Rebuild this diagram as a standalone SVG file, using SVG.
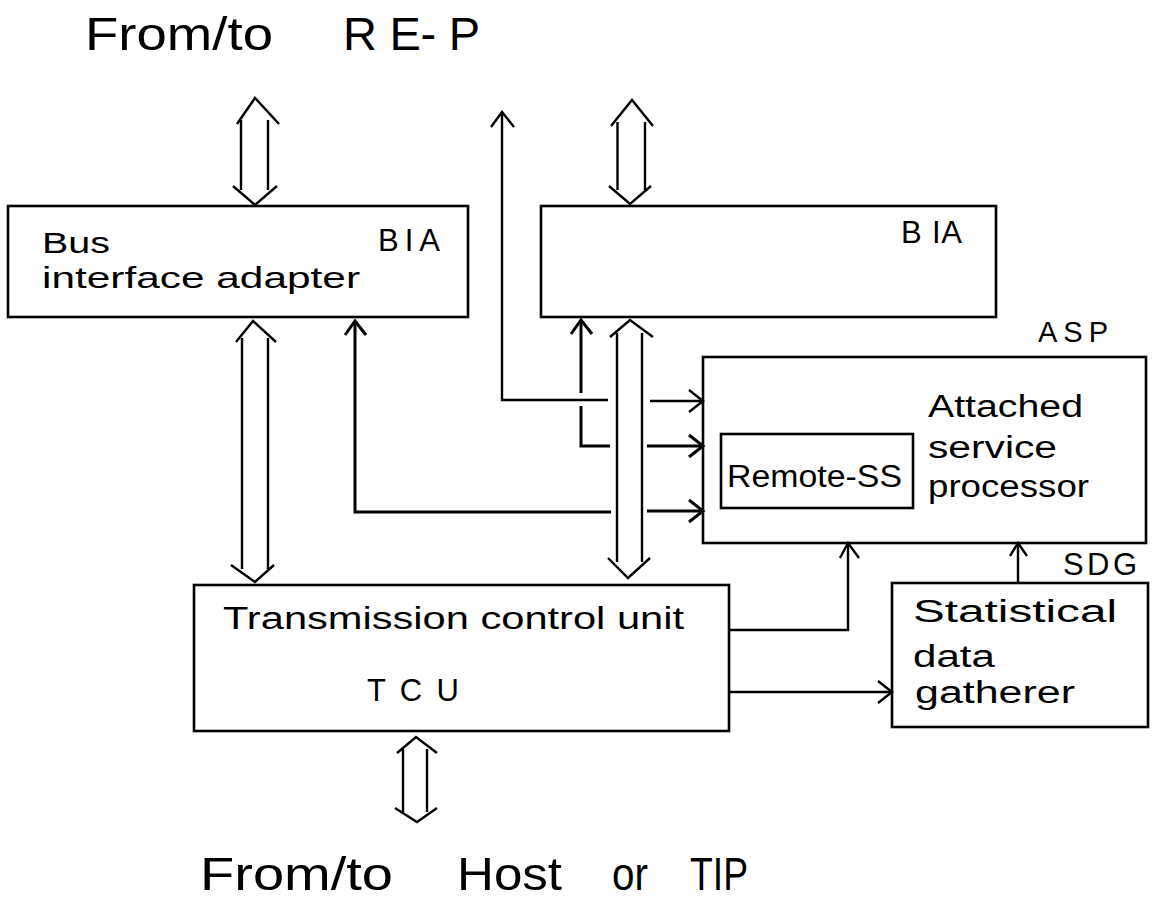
<svg xmlns="http://www.w3.org/2000/svg" width="1155" height="898" viewBox="0 0 1155 898">
<style>
.box{fill:none;stroke:#000;stroke-width:2.6}
.ln{fill:none;stroke:#000;stroke-width:2.4;stroke-linejoin:miter;stroke-linecap:butt}
.hd{fill:none;stroke:#000;stroke-width:3;stroke-linejoin:miter}
.t{font-family:"Liberation Sans",Arial,sans-serif;fill:#000;font-size:31px}
.big{font-family:"Liberation Sans",Arial,sans-serif;fill:#000;font-size:47px}
</style>
<rect width="1155" height="898" fill="#fff"/>

<g id="title-top">
<text class="big" x="85" y="50" textLength="188" lengthAdjust="spacingAndGlyphs">From/to</text>
<text class="big" x="343" y="50" textLength="137" lengthAdjust="spacing">R E- P</text>
</g>

<g id="bia-left">
<rect class="box" x="8" y="206" width="460" height="111"/>
<text class="t" x="42" y="253" textLength="68" lengthAdjust="spacingAndGlyphs" style="font-size:30px">Bus</text>
<text class="t" x="42" y="288" textLength="318" lengthAdjust="spacingAndGlyphs" style="font-size:30px">interface adapter</text>
<text class="t" x="378" y="251" textLength="62" lengthAdjust="spacing">BIA</text>
</g>

<g id="bia-right">
<rect class="box" x="541" y="206" width="455" height="111"/>
<text class="t" x="901" y="243" textLength="61" lengthAdjust="spacing">B IA</text>
</g>

<g id="asp">
<rect class="box" x="703" y="357" width="443" height="186"/>
<text class="t" x="1038" y="342" textLength="70" lengthAdjust="spacing" style="font-size:29px">ASP</text>
<text class="t" x="928" y="417" textLength="155" lengthAdjust="spacingAndGlyphs">Attached</text>
<text class="t" x="928" y="458" textLength="129" lengthAdjust="spacingAndGlyphs">service</text>
<text class="t" x="928" y="497" textLength="161" lengthAdjust="spacingAndGlyphs">processor</text>
</g>

<g id="remote-ss">
<rect class="box" x="721" y="434" width="192" height="74"/>
<text class="t" x="727" y="487" textLength="175" lengthAdjust="spacingAndGlyphs">Remote-SS</text>
</g>

<g id="tcu">
<rect class="box" x="194" y="585" width="535" height="146"/>
<text class="t" x="223" y="629" textLength="461" lengthAdjust="spacingAndGlyphs">Transmission control unit</text>
<text class="t" x="367" y="701" textLength="92" lengthAdjust="spacing">T C U</text>
</g>

<g id="sdg">
<rect class="box" x="892" y="583" width="256" height="144"/>
<text class="t" x="1063" y="575" textLength="74" lengthAdjust="spacing">SDG</text>
<text class="t" x="913" y="622" textLength="204" lengthAdjust="spacingAndGlyphs">Statistical</text>
<text class="t" x="913" y="667" textLength="82" lengthAdjust="spacingAndGlyphs">data</text>
<text class="t" x="915" y="703" textLength="160" lengthAdjust="spacingAndGlyphs">gatherer</text>
</g>

<g id="title-bottom">
<text class="big" x="200" y="890" textLength="193" lengthAdjust="spacingAndGlyphs">From/to</text>
<text class="big" x="457" y="890" textLength="105" lengthAdjust="spacingAndGlyphs">Host</text>
<text class="big" x="612" y="890" textLength="36" lengthAdjust="spacingAndGlyphs">or</text>
<text class="big" x="690" y="890" textLength="58" lengthAdjust="spacingAndGlyphs">TIP</text>
</g>

<g id="connectors">
<!-- top-left double arrow -->
<path class="ln" d="M237,124 L255,98 L279,124 M241,120 V190 M268,120 V190 M233,186 L255,205 L277,186"/>
<!-- top-right double arrow -->
<path class="ln" d="M611,126 L632,100 L653,126 M617.5,122 V190 M645,122 V190 M609,186 L630,204 L651,186"/>
<!-- single up arrow out of top -->
<path class="ln" d="M608,400 H502 V113"/>
<path class="ln" d="M491,127 L502,112 L514,127"/>
<path class="ln" d="M650,401 H701"/>
<path class="ln" d="M689,390 L703,401 L689,412"/>
<!-- left long double arrow -->
<path class="ln" d="M236,342 L253,321 L276,342 M242,338 V569 M268,338 V569 M231,565 L255,582 L274,565"/>
<!-- arrow into left BIA -->
<path class="hd" d="M611,512 H355 V322"/>
<path class="hd" d="M345,335 L355,321 L366,335"/>
<path class="hd" d="M647,511 H701"/>
<path class="hd" d="M689,500 L703,511 L689,522"/>
<!-- arrow into right BIA -->
<path class="hd" d="M581,393 V322"/>
<path class="hd" d="M571,334 L581,320 L592,334"/>
<path class="hd" d="M581,406 V446 H610"/>
<path class="hd" d="M647,446 H701"/>
<path class="hd" d="M689,435 L703,446 L689,457"/>
<!-- right long double arrow -->
<path class="ln" d="M610,337 L630,320 L653,337 M617,333 V562 M642,333 V562 M608,558 L628,578 L650,558"/>
<!-- TCU to ASP -->
<path class="ln" d="M729,630 H848 V545"/>
<path class="ln" d="M840,558 L848,543 L859,558"/>
<!-- TCU to SDG -->
<path class="ln" d="M729,692 H890"/>
<path class="ln" d="M878,681 L892,692 L878,703"/>
<!-- SDG to ASP -->
<path class="ln" d="M1018,583 V545"/>
<path class="ln" d="M1010,556 L1018,543 L1027,556"/>
<!-- bottom double arrow -->
<path class="ln" d="M397,753 L416,737 L437,753 M403,749 V812 M427,749 V812 M395,808 L417,822 L437,808"/>
</g>
</svg>
